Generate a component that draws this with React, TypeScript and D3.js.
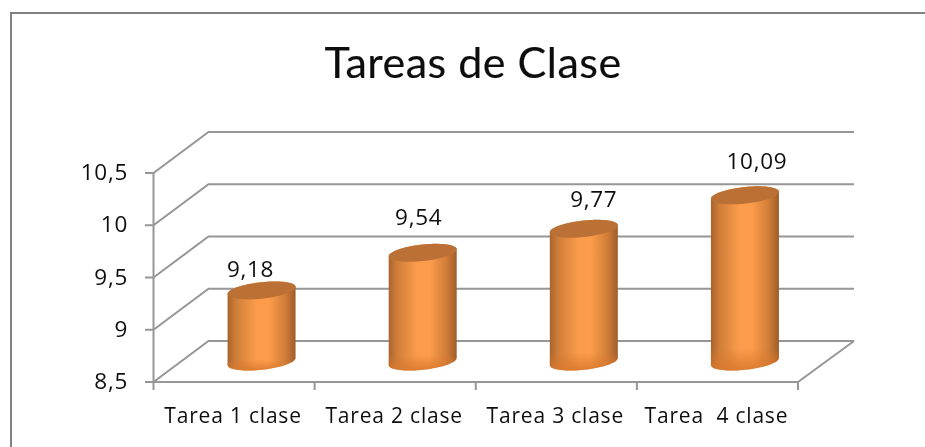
import React from 'react'
import * as d3 from 'd3'

const categories = ['Tarea 1 clase', 'Tarea 2 clase', 'Tarea 3 clase', 'Tarea  4 clase']
const values = [9.18, 9.54, 9.77, 10.09]
const yTicks = [8.5, 9, 9.5, 10, 10.5]
const title = 'Tareas de Clase'

const W = 925
const H = 447
const TITLE_FONT = 'Lato, "Open Sans", sans-serif'
const FONT = '"Open Sans", Lato, sans-serif'
const GRID = '#969696'

const comma = (v: number) => String(v).replace('.', ',')

export default function App() {
  const x = d3.scaleBand().domain(categories).range([153.5, 798])
  const y = d3.scaleLinear().domain([8.5, 10.5]).range([382, 173])
  const depth = { dx: 55, dy: -41 }
  const barOffset = { dx: 27.5, dy: -20.5 } // bars sit half way down the floor
  const rx = 34
  const ry = 8.3
  const shear = 3.5

  // labels were dragged by hand in the original, so they don't follow the bars
  const labelNudge = [[-11, -20], [-4, -35], [10, -29], [12, -33]]

  const angles = d3.range(0, Math.PI * 2, Math.PI / 40)
  const ring = (cx: number, cy: number, a: number) =>
    [cx + rx * Math.cos(a), cy + ry * Math.sin(a) - shear * Math.cos(a)] as [number, number]
  const closed = d3.line().curve(d3.curveLinearClosed)
  const open = d3.line()

  const bodyPath = (cx: number, top: number, bottom: number) => {
    const lower = d3.range(0, Math.PI + 0.001, Math.PI / 40).map(a => ring(cx, bottom, a))
    const upper = d3.range(Math.PI, Math.PI * 2 + 0.001, Math.PI / 40).map(a => ring(cx, top, a))
    return closed([...lower, ...upper]) as string
  }

  return (
    <svg width={W} height={H} style={{ position: 'absolute', left: 0, top: 0, background: '#fff' }} fontFamily={FONT}>
      <defs>
        <linearGradient id="cyl" x1="0" x2="1" y1="0" y2="0">
          <stop offset="0" stopColor="#a9632d" />
          <stop offset="0.12" stopColor="#cf7d39" />
          <stop offset="0.42" stopColor="#fb9c4c" />
          <stop offset="0.6" stopColor="#fd9d4b" />
          <stop offset="0.85" stopColor="#d07d38" />
          <stop offset="1" stopColor="#a05c28" />
        </linearGradient>
        <linearGradient id="foot" x1="0" x2="0" y1="0" y2="1">
          <stop offset="0.88" stopColor="#d9782c" stopOpacity="0" />
          <stop offset="1" stopColor="#d9782c" stopOpacity="0.9" />
        </linearGradient>
        {/* the reference is a slightly upscaled screenshot */}
        <filter id="soft" x="0" y="0" width="100%" height="100%">
          <feGaussianBlur stdDeviation="0.4" />
        </filter>
      </defs>

      <g filter="url(#soft)">
        {/* outer frame */}
        <path d={`M10.5,${H} V12.5 H${W}`} fill="none" stroke="#808080" strokeWidth={3} />

        <text x={473} y={78} textAnchor="middle" fontSize={43} letterSpacing={0.5} fontFamily={TITLE_FONT} stroke="#111" strokeWidth={0.15} fill="#111">{title}</text>

        {/* walls */}
        {yTicks.map(t => (
          <g key={t}>
            <path
              d={open([[x.range()[0], y(t)], [x.range()[0] + depth.dx, y(t) + depth.dy], [x.range()[1] + depth.dx + 1, y(t) + depth.dy]]) as string}
              fill="none" stroke={GRID} strokeWidth={2}
            />
            <line x1={145} x2={x.range()[0]} y1={y(t)} y2={y(t)} stroke={GRID} strokeWidth={2} />
            <text x={128} y={y(t) + 7} textAnchor="end" fontSize={22.5} letterSpacing={0.7} fill="#111">{comma(t)}</text>
          </g>
        ))}

        {/* floor and axes */}
        <line x1={x.range()[0]} x2={x.range()[0]} y1={y(10.5)} y2={y(8.5)} stroke={GRID} strokeWidth={2} />
        <line x1={x.range()[0]} x2={x.range()[1]} y1={y(8.5)} y2={y(8.5)} stroke={GRID} strokeWidth={2} />
        <line x1={x.range()[1]} x2={x.range()[1] + depth.dx + 1} y1={y(8.5)} y2={y(8.5) + depth.dy} stroke={GRID} strokeWidth={2} />
        {[...categories.map(c => x(c) as number), x.range()[1]].map(t => (
          <line key={t} x1={t} x2={t} y1={y(8.5)} y2={390} stroke={GRID} strokeWidth={2} />
        ))}

        {categories.map((c, i) => {
          const cx = (x(c) as number) + x.bandwidth() / 2 + barOffset.dx
          const top = y(values[i]) + barOffset.dy
          const bottom = y(8.5) + barOffset.dy
          return (
            <g key={c}>
              <path d={bodyPath(cx, top, bottom)} fill="url(#cyl)" />
              <path d={bodyPath(cx, top, bottom)} fill="url(#foot)" />
              <path d={closed(angles.map(a => ring(cx, top, a))) as string} fill="#bb7134" />
              <text x={cx + labelNudge[i][0]} y={top + labelNudge[i][1] + 7} textAnchor="middle" fontSize={22.5} letterSpacing={0.7} fill="#111">
                {comma(values[i])}
              </text>
              <text x={(x(c) as number) + x.bandwidth() / 2 - 1} y={423} textAnchor="middle" fontSize={21} letterSpacing={0.8} style={{ whiteSpace: 'pre' }} fill="#111">
                {c}
              </text>
            </g>
          )
        })}
      </g>
    </svg>
  )
}
